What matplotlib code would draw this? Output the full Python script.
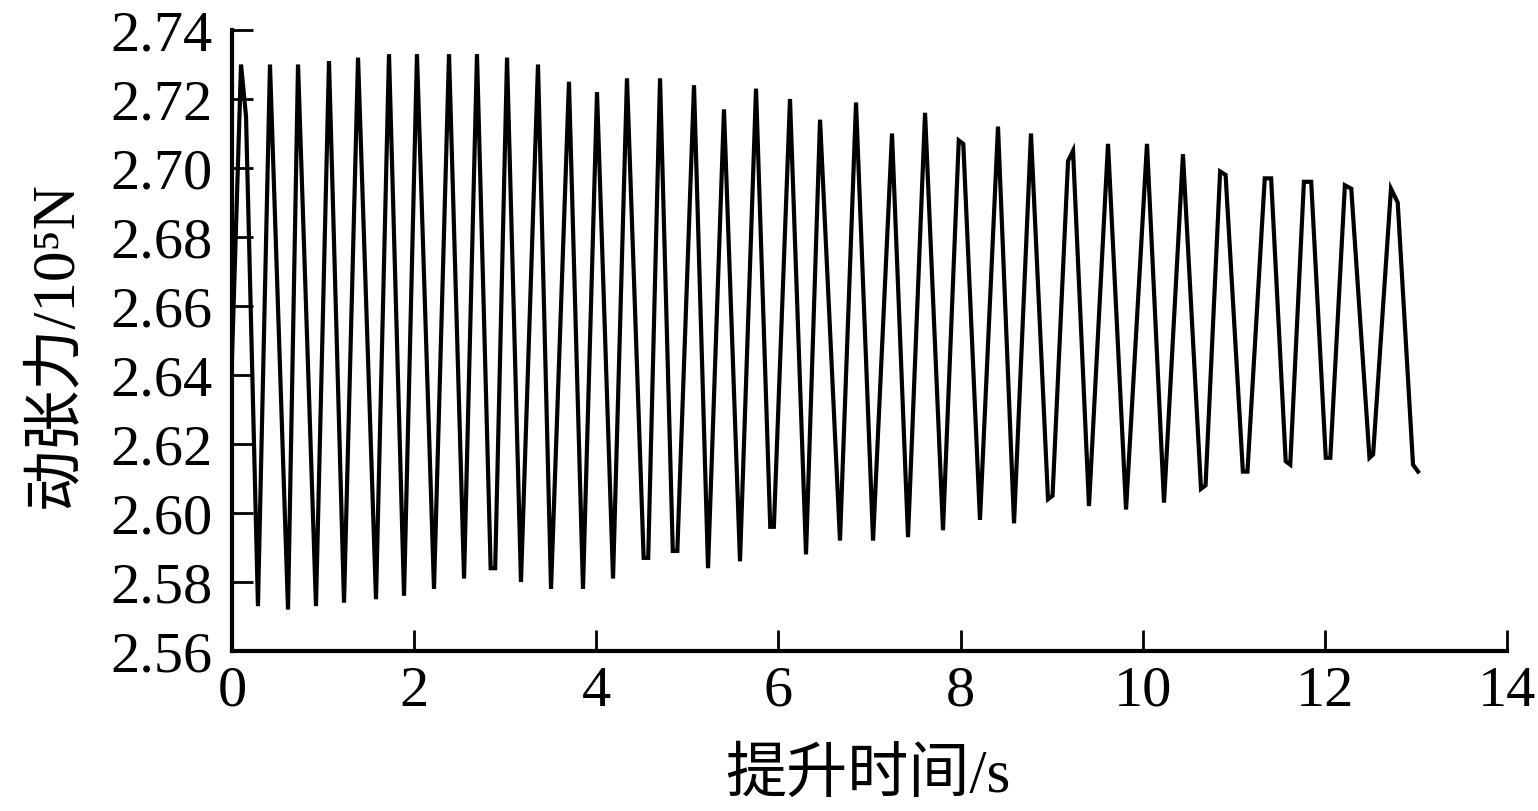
import matplotlib
matplotlib.use("Agg")
import matplotlib.pyplot as plt

# Time (s) and dynamic tension (10^5 N), peaks/troughs
time_s = [0.000, 0.099, 0.154, 0.285, 0.417, 0.615, 0.725, 0.922, 1.065, 1.230,
          1.384, 1.581, 1.724, 1.889, 2.031, 2.218, 2.383, 2.548, 2.690, 2.840,
          2.890, 3.020, 3.173, 3.360, 3.503, 3.700, 3.854, 4.008, 4.184, 4.337,
          4.520, 4.570, 4.700, 4.840, 4.890, 5.073, 5.227, 5.402, 5.578, 5.754,
          5.910, 5.950, 6.127, 6.303, 6.457, 6.676, 6.852, 7.039, 7.247, 7.423,
          7.610, 7.807, 7.980, 8.030, 8.213, 8.411, 8.587, 8.773, 8.960, 9.010,
          9.180, 9.235, 9.410, 9.619, 9.817, 10.047, 10.234, 10.442, 10.640, 10.690,
          10.850, 10.910, 11.100, 11.150, 11.340, 11.410, 11.570, 11.620, 11.770, 11.850,
          12.010, 12.060, 12.220, 12.290, 12.490, 12.530, 12.726, 12.800, 12.968, 13.023]
tension = [2.645, 2.730, 2.715, 2.573, 2.730, 2.572, 2.730, 2.573, 2.731, 2.574,
           2.732, 2.575, 2.733, 2.576, 2.733, 2.578, 2.733, 2.581, 2.733, 2.584,
           2.584, 2.732, 2.580, 2.730, 2.578, 2.725, 2.578, 2.722, 2.581, 2.726,
           2.587, 2.587, 2.726, 2.589, 2.589, 2.724, 2.584, 2.717, 2.586, 2.723,
           2.596, 2.596, 2.720, 2.588, 2.714, 2.592, 2.719, 2.592, 2.710, 2.593,
           2.716, 2.595, 2.708, 2.707, 2.598, 2.712, 2.597, 2.710, 2.604, 2.605,
           2.702, 2.705, 2.602, 2.707, 2.601, 2.707, 2.603, 2.704, 2.607, 2.608,
           2.699, 2.698, 2.612, 2.612, 2.697, 2.697, 2.615, 2.614, 2.696, 2.696,
           2.616, 2.616, 2.695, 2.694, 2.616, 2.617, 2.694, 2.690, 2.614, 2.612]

x_ticks = [0, 2, 4, 6, 8, 10, 12, 14]
y_ticks = [2.56, 2.58, 2.60, 2.62, 2.64, 2.66, 2.68, 2.70, 2.72, 2.74]
x_label = "提升时间/s"
y_label = "动张力/10⁵N"

serif = ["Liberation Serif", "Noto Sans CJK SC", "DejaVu Sans"]
plt.rcParams["font.family"] = serif

fig = plt.figure(figsize=(15.38, 8.12), dpi=100)
ax = fig.add_axes([232/1538, 1 - 652/812, (1507 - 232)/1538, (652 - 31)/812])

ax.plot(time_s, tension, color="black", lw=3.0, solid_joinstyle="miter")

ax.set_xlim(0, 14)
ax.set_ylim(2.56, 2.74)
ax.set_xticks(x_ticks)
ax.set_yticks(y_ticks)
ax.set_xticklabels([str(v) for v in x_ticks])
ax.set_yticklabels([f"{v:.2f}" for v in y_ticks])

for side in ("top", "right"):
    ax.spines[side].set_visible(False)
for side in ("left", "bottom"):
    ax.spines[side].set_linewidth(3)

ax.tick_params(axis="both", direction="in", length=15, width=2, labelsize=42,
               colors="black")
ax.tick_params(axis="y", pad=14)
ax.tick_params(axis="x", pad=10)

fig.text(868/1538, 1 - 777/812, x_label, ha="center", va="center",
         fontsize=44, family=serif)
fig.text(56/1538, 1 - 345/812, y_label, ha="center", va="center",
         rotation=90, fontsize=44, family=serif)

fig.savefig("out.png", dpi=100)
